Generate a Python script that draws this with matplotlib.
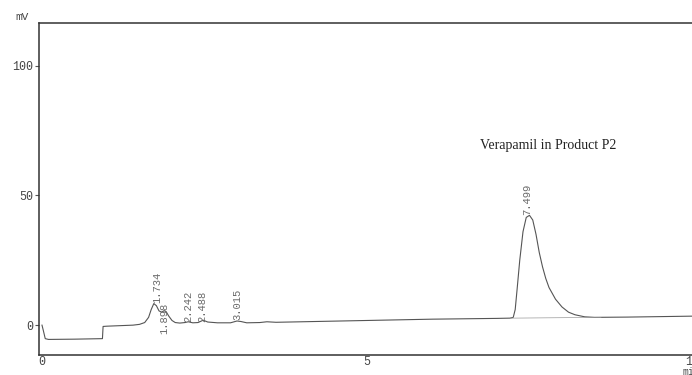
import numpy as np
import matplotlib
matplotlib.use("Agg")
import matplotlib.pyplot as plt

# ---- data ----
trace_t = [0.00, 0.02, 0.05, 0.10, 0.50, 0.93, 0.94, 1.00, 1.20, 1.40, 1.50, 1.58,
           1.64, 1.68, 1.72, 1.76, 1.80, 1.84, 1.88, 1.91, 1.95, 2.00, 2.05, 2.12,
           2.20, 2.25, 2.32, 2.40, 2.48, 2.55, 2.70, 2.90, 3.00, 3.06, 3.15, 3.35,
           3.46, 3.60, 4.00, 5.00, 6.00, 7.00, 7.20, 7.25, 7.28, 7.31, 7.35, 7.40,
           7.45, 7.50, 7.55, 7.60, 7.65, 7.70, 7.75, 7.80, 7.90, 8.00, 8.10, 8.20,
           8.35, 8.50, 9.00, 10.10]
trace_mv = [0.0, -2.0, -5.2, -5.5, -5.4, -5.2, -0.5, -0.4, -0.2, 0.0, 0.3, 1.0,
            3.0, 6.0, 8.3, 7.5, 5.5, 5.0, 5.6, 5.2, 3.5, 1.8, 1.0, 0.8,
            1.0, 1.3, 0.9, 1.0, 1.9, 1.2, 0.9, 0.9, 1.6, 1.4, 0.9, 1.0,
            1.3, 1.1, 1.3, 1.8, 2.3, 2.6, 2.7, 3.0, 6.0, 14.0, 25.0, 36.0,
            41.5, 42.3, 40.5, 35.0, 28.0, 22.5, 18.0, 14.5, 10.0, 7.0, 5.0, 4.0,
            3.2, 3.0, 3.1, 3.5]

peak_rt = [1.734, 1.898, 2.242, 2.488, 3.015, 7.499]
peak_label = ["1.734", "1.898", "2.242", "2.488", "3.015", "7.499"]
peak_label_x = [1.77, 1.88, 2.25, 2.47, 3.00, 7.47]
peak_label_y = [8.5, 8.5, 1.2, 1.2, 1.9, 42.5]
peak_label_down = [False, True, False, False, False, False]

y_ticks = [0, 50, 100]
x_ticks = [0, 5, 10]
title_text = "Verapamil in Product P2"

# ---- figure ----
fig = plt.figure(figsize=(6.92, 3.75), dpi=100)
W, H = 692, 375
ax_left, ax_right, ax_top, ax_bottom = 39, 692, 22.7, 355
ax = fig.add_axes([ax_left / W, 1 - ax_bottom / H,
                   (ax_right - ax_left) / W, (ax_bottom - ax_top) / H])
ax.set_xlim(-0.046, 10.0)
ax.set_ylim(-11.5, 116.5)

ax.plot(trace_t, trace_mv, color="#555555", lw=0.8)
# integration baseline under main peak
ax.plot([7.22, 8.6], [2.7, 3.0], color="#999999", lw=0.5)

mono = "Liberation Mono"
for x, y, s, down in zip(peak_label_x, peak_label_y, peak_label, peak_label_down):
    ax.text(x, y, s, rotation=90, ha="center", va="top" if down else "bottom",
            fontsize=7.6, family=mono, color="#6a6a6a")

fig.text(480 / W, 1 - 145 / H, title_text, fontsize=10, family="Liberation Serif",
         color="#222222", va="center", ha="left")

for s in ["right"]:
    ax.spines[s].set_visible(False)
for s in ["left", "top", "bottom"]:
    ax.spines[s].set_color("#333333")
    ax.spines[s].set_linewidth(1.1)

ax.set_yticks(y_ticks)
ax.set_yticklabels([str(v) for v in y_ticks], family=mono, fontsize=8.4, color="#444444")
ax.set_xticks(x_ticks)
ax.set_xticklabels([str(v) for v in x_ticks], family=mono, fontsize=8.4, color="#444444")
ax.tick_params(axis="y", length=3, width=0.8, color="#555555", pad=1)
ax.tick_params(axis="x", length=0, pad=0.5)

fig.text(22 / W, 1 - 17 / H, "mV", family=mono, fontsize=8, color="#444444",
         ha="center", va="center")
fig.text(683 / W, 1 - 367 / H, "min", family=mono, fontsize=7, color="#444444",
         ha="left", va="top")

fig.savefig("out.png", dpi=100)
